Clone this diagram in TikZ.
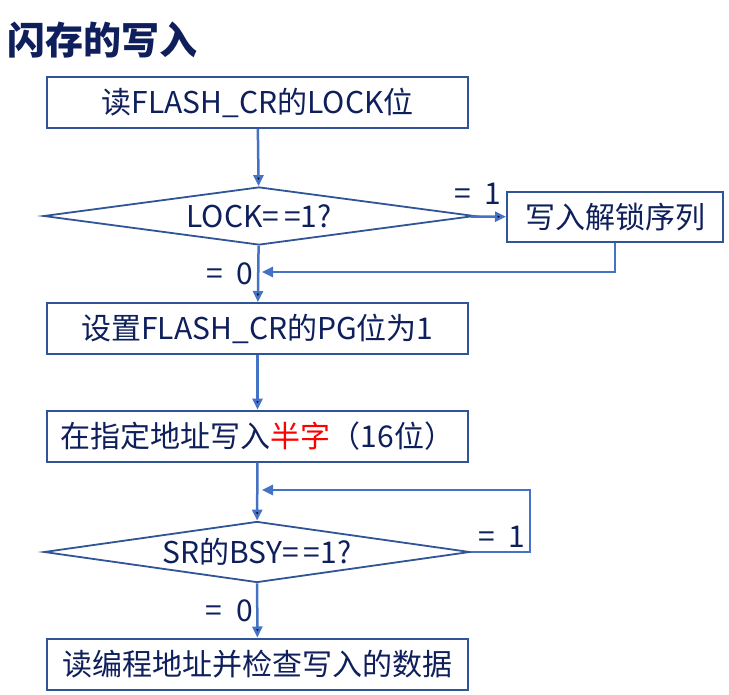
\documentclass[tikz,border=0pt]{standalone}
\usepackage{fontspec}
\setmainfont{Noto Sans CJK SC}
\usepackage{xcolor}
\usetikzlibrary{arrows.meta,shapes.geometric}

\definecolor{boxblue}{HTML}{2F5597}
\definecolor{lineblue}{HTML}{4472C4}
\definecolor{navy}{HTML}{0E1F5B}

\begin{document}
\begin{tikzpicture}[
  x = 1pt, y = -1pt, % pixel grid, y down
  >= {Triangle[length=11pt,width=10pt]}, % arrow head style
  flow/.style = {line width = 2.5pt, draw = lineblue},
  font = \fontsize{30}{34}\selectfont,
  text = navy
  ]

  \tikzstyle{stepbox}=[
    draw = boxblue,
    line width = 2pt,
    minimum width = 421pt,
    minimum height = 51pt,
    inner sep = 0pt
  ]
  \tikzstyle{testbox}=[
    shape = diamond,
    draw = boxblue,
    line width = 1.8pt,
    aspect = 7.4,
    inner sep = 0pt
  ]

\useasboundingbox (0,0) rectangle (729,695);

\node[anchor=west, font=\fontsize{38}{40}\selectfont\bfseries] (title) at (4,40) {闪存的写入};

\node[stepbox] (readlock) at (257.5,102.5) {读FLASH\_CR的LOCK位};
\node[testbox, minimum width=431pt, minimum height=58pt] (lockq) at (259,216) {LOCK=\,=1?};
\node[stepbox, minimum width=216pt, minimum height=50pt] (unlock) at (615,217) {写入解锁序列};
\node[stepbox] (setpg) at (257.5,328.5) {设置FLASH\_CR的PG位为1};
\node[stepbox] (writehw) at (257.5,436) {在指定地址写入\textcolor{red}{半字}（16位）};
\node[testbox, minimum width=426pt, minimum height=61pt] (busyq) at (257,552) {SR的BSY=\,=1?};
\node[stepbox] (check) at (257.5,664) {读编程地址并检查写入的数据};

\coordinate (backA) at (262,272);
\coordinate (backB) at (262,490);

 \path [flow, ->] (readlock) edge (lockq);
 \path [flow, ->] (lockq) edge node[pos=0.2, above=8pt] {=\ \ 1} (unlock);
 \path [flow, ->] (lockq) edge node[left] {=\ \ 0} (setpg);
  \draw [flow, ->] (unlock.south) |- (backA);
 \path [flow, ->] (setpg) edge (writehw);
 \path [flow, ->] (writehw) edge (busyq);
 \path [flow, ->] (busyq) edge node[left] {=\ \ 0} (check);
  \draw [flow, ->] (busyq.east) -- ++(59,0) node[above left] {=\ \ 1} |- (backB);
\end{tikzpicture}
\end{document}
